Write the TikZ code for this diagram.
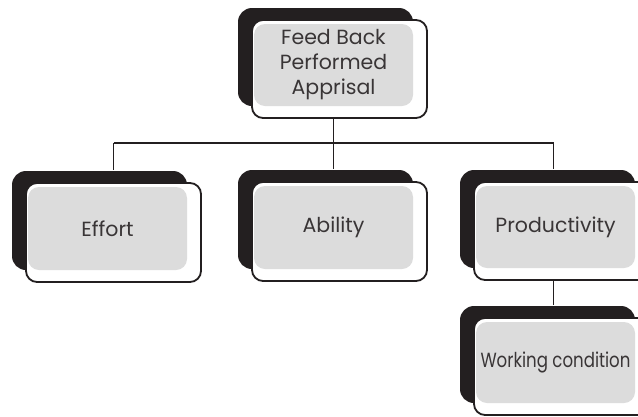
\documentclass[tikz,border=0pt]{standalone}
\usepackage{fontspec}
\setmainfont{Poppins}
\usetikzlibrary{backgrounds}
\definecolor{shade}{HTML}{231F20}
\definecolor{boxgray}{HTML}{DCDCDC}
\tikzset{
  shadowbox/.style={fill=shade, rounded corners=14pt},
  outlinebox/.style={draw=shade, line width=1.8pt, fill=white, rounded corners=11pt, inner sep=0pt},
  graybox/.style={fill=boxgray, rounded corners=11pt},
  boxtext/.style={font=\fontsize{20.5}{25}\selectfont, text=shade!90, align=center, inner sep=0pt},
  conn/.style={draw=shade, line width=1.9pt},
}
\newcommand\orgbox[6]{%
  \fill[shadowbox] ({#2-14},{#3-12}) rectangle ({#4-14},{#5-12});
  \node[outlinebox, minimum width={(#4-#2)*1pt}, minimum height={(#5-#3)*1pt}] (#1) at ({(#2+#4)/2},{(#3+#5)/2}) {};
  \fill[graybox] ({#2+2},{#3+4}) rectangle ({#4-14},{#5-12});
  \node[boxtext] (#1-text) at ({(#2+#4)/2-6},{(#3+#5)/2-4}) {#6};
}
\begin{document}
\begin{tikzpicture}[x=1pt,y=-1pt]
  \useasboundingbox (0,0) rectangle (638,416);
  \clip (0,0) rectangle (638,416);
  \coordinate (bus) at (0,143);
  % boxes
  \orgbox{top}{252}{20}{427}{118}{Feed Back\\Performed\\Apprisal}
  \orgbox{effort}{26}{183}{201}{282}{Effort}
  \orgbox{ability}{252}{182}{427}{281}{Ability}
  \orgbox{prod}{474}{182}{649}{280}{Productivity}
  \orgbox{work}{474}{318}{649}{415}{\scalebox{0.81}[1]{Working condition}}
  % connectors (drawn behind boxes)
  \begin{scope}[on background layer]
  \draw[conn] ([xshift=-6pt]top.south) -- ([xshift=-6pt]top.south |- bus);
  \draw[conn] (effort.north |- bus) -- ([xshift=-8pt]prod.north |- bus);
  \draw[conn] (effort.north |- bus) -- ([yshift=12pt]effort.north);
  \draw[conn] ([xshift=-6pt]ability.north |- bus) -- ([xshift=-6pt,yshift=12pt]ability.north);
  \draw[conn] ([xshift=-8pt]prod.north |- bus) -- ([xshift=-8pt,yshift=12pt]prod.north);
  \draw[conn] ([xshift=-8pt]prod.south) -- ([xshift=-8pt,yshift=12pt]work.north);
  \end{scope}
\end{tikzpicture}
\end{document}
